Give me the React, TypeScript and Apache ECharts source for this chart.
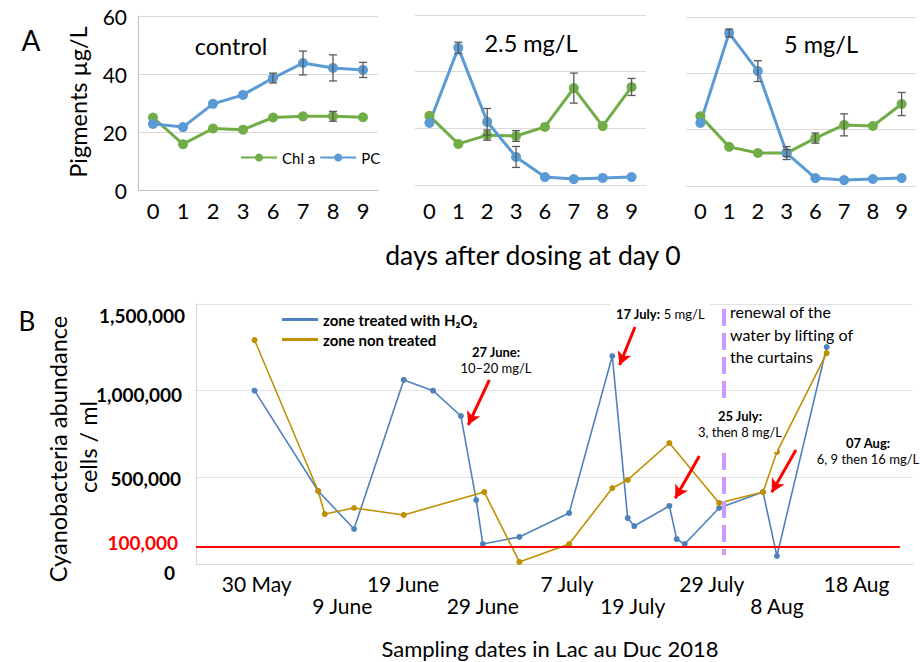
import React, { useEffect, useRef } from 'react';
import * as echarts from 'echarts';

// ---------------- Panel A data ----------------
const dayLabels = ['0', '1', '2', '3', '6', '7', '8', '9'];
const panelTitles = ['control', '2.5 mg/L', '5 mg/L'];

const controlChl = [25.0, 15.8, 21.2, 20.8, 25.0, 25.4, 25.4, 25.1];
const controlChlErr = [0, 0, 0, 0, 0, 0, 1.7, 0];
const controlPC = [22.8, 21.7, 29.7, 32.8, 38.6, 43.8, 42.1, 41.4];
const controlPCErr = [0, 0, 0, 0, 1.7, 4.1, 4.5, 2.6];

const dose25Chl = [24.4, 14.5, 17.6, 17.3, 20.5, 34.2, 20.8, 34.6];
const dose25ChlErr = [0, 0, 1.8, 1.9, 0, 5.3, 0, 3.0];
const dose25PC = [21.9, 48.4, 22.3, 9.9, 2.8, 2.1, 2.5, 2.8];
const dose25PCErr = [0, 2.0, 4.7, 3.7, 0, 0, 0, 0];

const dose5Chl = [24.8, 13.9, 11.7, 11.7, 17.0, 21.7, 21.3, 29.1];
const dose5ChlErr = [0, 0, 0, 1.2, 1.8, 3.9, 0, 4.1];
const dose5PC = [22.4, 54.3, 40.8, 11.7, 2.8, 2.1, 2.5, 2.8];
const dose5PCErr = [0, 1.4, 3.7, 2.3, 0, 0, 0, 0];

// ---------------- Panel B data ----------------
const treatedName = 'zone treated with H\u2082O\u2082';
const nonTreatedName = 'zone non treated';
const dateLabels = ['30 May', '9 June', '19 June', '29 June', '7 July', '19 July', '29 July', '8 Aug', '18 Aug'];
const dateLabelDays = [0.3, 12.0, 20.3, 31.2, 42.7, 51.7, 62.5, 71.4, 82.3];

const treatedDays = [0, 8.7, 13.6, 20.4, 24.4, 28.2, 30.3, 31.2, 36.2, 43.0, 48.9, 51.0, 51.9, 56.7, 57.7, 58.8, 63.5, 69.5, 71.4, 78.2];
const treatedCells = [1000000, 421000, 202000, 1062000, 1000000, 854000, 369000, 115000, 156000, 294000, 1200000, 265000, 219000, 335000, 144000, 115000, 323000, 415000, 46000, 1252000];

const nonTreatedDays = [0, 8.7, 9.6, 13.6, 20.4, 31.4, 36.2, 43.0, 48.9, 51.0, 56.7, 63.5, 69.5, 71.4, 78.2];
const nonTreatedCells = [1292000, 421000, 288000, 323000, 283000, 415000, 12000, 115000, 438000, 485000, 698000, 352000, 415000, 646000, 1217000];

const threshold = 100000;
const renewalDay = 64.2;
// dosing arrows: [fromDay, fromCells, toDay, toCells]
const doseArrows = [
  [32.1, 1062000, 29.2, 802000],
  [52.0, 1367000, 49.9, 1148000],
  [60.8, 623000, 57.5, 379000],
  [74.0, 658000, 70.7, 414000],
];

const FONT = 'Lato, "Open Sans", "Noto Sans", sans-serif';
const GREEN = '#70AD47';
const BLUE = '#5B9BD5';
const TBLUE = '#4F81BD';
const GOLD = '#BF9000';

function errData(vals: number[], errs: number[]) {
  const out: number[][] = [];
  vals.forEach((v, i) => {
    if (errs[i] > 0) out.push([i, v, errs[i]]);
  });
  return out;
}

function renderErr(params: any, api: any) {
  const i = api.value(0);
  const v = api.value(1);
  const e = api.value(2);
  const top = api.coord([i, v + e]);
  const bot = api.coord([i, v - e]);
  const w = 4;
  const st = { stroke: '#595959', lineWidth: 1.3 };
  return {
    type: 'group',
    children: [
      { type: 'line', shape: { x1: top[0], y1: top[1], x2: bot[0], y2: bot[1] }, style: st },
      { type: 'line', shape: { x1: top[0] - w, y1: top[1], x2: top[0] + w, y2: top[1] }, style: st },
      { type: 'line', shape: { x1: bot[0] - w, y1: bot[1], x2: bot[0] + w, y2: bot[1] }, style: st },
    ],
  };
}

function buildOption() {
  const aGrids = [
    { left: 138, top: 16, width: 240, height: 174 },
    { left: 415, top: 15, width: 231, height: 170 },
    { left: 686, top: 17, width: 230, height: 169 },
  ];
  const aMargins = [9, 14, 13];
  const aSets = [
    [controlChl, controlChlErr, controlPC, controlPCErr],
    [dose25Chl, dose25ChlErr, dose25PC, dose25PCErr],
    [dose5Chl, dose5ChlErr, dose5PC, dose5PCErr],
  ];

  const xAxis: any[] = [];
  const yAxis: any[] = [];
  const series: any[] = [];

  aGrids.forEach((g, k) => {
    xAxis.push({
      type: 'category',
      gridIndex: k,
      data: dayLabels,
      boundaryGap: true,
      axisTick: { show: false },
      axisLine: { show: k === 0, lineStyle: { color: '#BFBFBF', width: 1 } },
      axisLabel: { fontSize: 22, color: '#000', fontFamily: FONT, margin: aMargins[k], interval: 0 },
    });
    yAxis.push({
      type: 'value',
      gridIndex: k,
      min: 0,
      max: 60,
      interval: 20,
      axisLine: { show: k === 0, lineStyle: { color: '#BFBFBF', width: 1 } },
      axisTick: { show: false },
      splitLine: { show: true, lineStyle: { color: '#D9D9D9', width: 1 } },
      axisLabel: { show: k === 0, fontSize: 21, color: '#000', fontFamily: FONT, margin: 11 },
    });
    const [chl, chlE, pc, pcE] = aSets[k];
    series.push({
      type: 'line', name: 'Chl a', xAxisIndex: k, yAxisIndex: k, data: chl,
      color: GREEN, lineStyle: { width: 3, color: GREEN }, symbol: 'circle', symbolSize: 10,
      itemStyle: { color: GREEN },
    });
    series.push({
      type: 'line', name: 'PC', xAxisIndex: k, yAxisIndex: k, data: pc,
      color: BLUE, lineStyle: { width: 3, color: BLUE }, symbol: 'circle', symbolSize: 10,
      itemStyle: { color: BLUE },
    });
    series.push({
      type: 'custom', xAxisIndex: k, yAxisIndex: k, z: 6,
      data: errData(chl, chlE).concat(errData(pc, pcE)),
      encode: { x: 0, y: 1 },
      renderItem: renderErr,
      silent: true,
    });
  });

  // Panel B axes
  xAxis.push({
    type: 'value',
    gridIndex: 3,
    min: -8,
    max: 90,
    splitLine: { show: false },
    axisTick: { show: false },
    axisLine: { show: true, onZero: false, lineStyle: { color: '#D9D9D9', width: 1 } },
    axisLabel: {
      customValues: dateLabelDays,
      fontSize: 21,
      lineHeight: 22,
      color: '#000',
      fontFamily: FONT,
      margin: 8,
      formatter: (val: number) => {
        let best = 0;
        dateLabelDays.forEach((d, i) => {
          if (Math.abs(d - val) < Math.abs(dateLabelDays[best] - val)) best = i;
        });
        return (best % 2 === 1 ? '\n' : '') + dateLabels[best];
      },
    },
  });
  const yRich = (padTop: number, padRight: number) => ({
    fontSize: 19, fontWeight: 'bold', color: '#000', fontFamily: FONT, padding: [padTop, padRight, 0, 0],
  });
  yAxis.push({
    type: 'value',
    gridIndex: 3,
    min: 0,
    max: 1500000,
    interval: 500000,
    axisTick: { show: false },
    axisLine: { show: true, onZero: false, lineStyle: { color: '#D9D9D9', width: 1 } },
    splitLine: { show: true, lineStyle: { color: '#E3E3E3', width: 1 } },
    axisLabel: {
      margin: 11,
      fontSize: 19,
      fontWeight: 'bold',
      fontFamily: FONT,
      color: '#000',
      formatter: (v: number) => {
        const s = v.toLocaleString('en-US');
        const key = v === 1500000 ? 'a' : v === 1000000 ? 'b' : v === 500000 ? 'c' : 'd';
        return '{' + key + '|' + s + '}';
      },
      rich: { a: yRich(22, 0), b: yRich(8, 3), c: yRich(2, 4), d: yRich(16, 10) },
    },
  });

  const markData: any[] = [
    [
      {
        coord: [-8, threshold],
        lineStyle: { color: '#FF0000', width: 2, type: 'solid' },
        label: {
          show: true, position: 'start', formatter: '100,000', color: '#FF0000',
          fontSize: 19, fontWeight: 'bold', fontFamily: FONT, distance: 18, offset: [0, -4],
        },
      },
      { coord: [88.2, threshold] },
    ],
    [
      { coord: [renewalDay, 1471000], lineStyle: { color: '#CC99FF', width: 4, type: [17, 7] } },
      { coord: [renewalDay, 52000] },
    ],
  ];
  doseArrows.forEach((a) => {
    markData.push([
      { coord: [a[0], a[1]], symbol: 'none', lineStyle: { color: '#FF0000', width: 3, type: 'solid' } },
      { coord: [a[2], a[3]], symbol: 'arrow', symbolSize: [11, 13] },
    ]);
  });

  series.push({
    type: 'line', name: treatedName, xAxisIndex: 3, yAxisIndex: 3,
    data: treatedDays.map((d, i) => [d, treatedCells[i]]),
    color: TBLUE, lineStyle: { width: 1.6, color: TBLUE }, symbol: 'circle', symbolSize: 6,
    itemStyle: { color: TBLUE },
    markLine: {
      silent: true, animation: false, symbol: ['none', 'none'],
      label: { show: false },
      data: markData,
    },
  });
  series.push({
    type: 'line', name: nonTreatedName, xAxisIndex: 3, yAxisIndex: 3,
    data: nonTreatedDays.map((d, i) => [d, nonTreatedCells[i]]),
    color: GOLD, lineStyle: { width: 1.6, color: GOLD }, symbol: 'circle', symbolSize: 6,
    itemStyle: { color: GOLD },
  });

  const txt = (x: number, y: number, text: string, fontSize: number, extra: any = {}) => ({
    type: 'text', x, y, z: 20, ...extra,
    style: {
      text, fontSize, fontFamily: FONT, fill: '#000', align: 'center', verticalAlign: 'middle',
      ...(extra.style || {}),
    },
  });
  const rb = { fontWeight: 'bold', fontSize: 13, fontFamily: FONT, fill: '#000', color: '#000' };
  const rn = { fontSize: 13, fontFamily: FONT, fill: '#000', color: '#000' };

  const graphic: any[] = [
    txt(31, 40, 'A', 28),
    txt(27, 321, 'B', 26),
    txt(231, 46, panelTitles[0], 23.5),
    txt(531, 43, panelTitles[1], 23.5),
    txt(821, 44, panelTitles[2], 23.5),
    txt(78, 102, 'Pigments \u00b5g/L', 23.5, { rotation: Math.PI / 2 }),
    txt(533, 255, 'days after dosing at day 0', 26.5),
    txt(58, 449, 'Cyanobacteria abundance', 23.5, { rotation: Math.PI / 2 }),
    txt(88, 447, 'cells / ml', 23.5, { rotation: Math.PI / 2 }),
    txt(550, 648, 'Sampling dates in Lac au Duc 2018', 22),
    // white boxes behind annotations
    { type: 'rect', z: 15, shape: { x: 610, y: 299, width: 100, height: 21 }, style: { fill: '#fff' } },
    { type: 'rect', z: 15, shape: { x: 703, y: 400, width: 74, height: 52 }, style: { fill: '#fff' } },
    {
      type: 'text', x: 496, y: 360, z: 20,
      style: { text: '{b|27 June:}\n{n|10\u201320 mg/L}', rich: { b: rb, n: rn }, align: 'center', verticalAlign: 'middle', lineHeight: 16 },
    },
    {
      type: 'text', x: 616, y: 314, z: 20,
      style: { text: '{b|17 July:} {n|5 mg/L}', rich: { b: rb, n: rn }, align: 'left', verticalAlign: 'middle' },
    },
    {
      type: 'text', x: 740, y: 424, z: 20,
      style: { text: '{b|25 July:}\n{n|3, then 8 mg/L}', rich: { b: rb, n: rn }, align: 'center', verticalAlign: 'middle', lineHeight: 16 },
    },
    {
      type: 'text', x: 868, y: 451, z: 20,
      style: { text: '{b|07 Aug:}\n{n|6, 9 then 16 mg/L}', rich: { b: rb, n: rn }, align: 'center', verticalAlign: 'middle', lineHeight: 16 },
    },
    {
      type: 'text', x: 730, y: 334, z: 20,
      style: {
        text: 'renewal of the\nwater by lifting of\nthe curtains', fontSize: 16, fontFamily: FONT, fill: '#000',
        align: 'left', verticalAlign: 'middle', lineHeight: 22.5,
      },
    },
  ];

  return {
    animation: false,
    backgroundColor: '#fff',
    textStyle: { fontFamily: FONT },
    grid: [...aGrids, { left: 196, top: 304, width: 717, height: 260 }],
    xAxis,
    yAxis,
    legend: [
      {
        data: ['Chl a', 'PC'],
        left: 235, top: 145, itemWidth: 36, itemHeight: 10, itemGap: 4,
        textStyle: { fontSize: 15, color: '#000', fontFamily: FONT },
      },
      {
        data: [treatedName, nonTreatedName],
        orient: 'vertical', left: 277, top: 305, itemWidth: 36, itemHeight: 3, itemGap: 1,
        icon: 'rect',
        textStyle: { fontSize: 15, fontWeight: 'bold', color: '#000', fontFamily: FONT, lineHeight: 19 },
      },
    ],
    series,
    graphic: { elements: graphic },
  };
}

export default function App() {
  const ref = useRef<HTMLDivElement>(null);
  useEffect(() => {
    if (!ref.current) return;
    const chart = echarts.init(ref.current, undefined, { renderer: 'svg' });
    chart.setOption(buildOption() as any);
    return () => chart.dispose();
  }, []);
  return (
    <div
      ref={ref}
      style={{ position: 'absolute', left: 0, top: 0, width: 920, height: 662, background: '#fff' }}
    />
  );
}
